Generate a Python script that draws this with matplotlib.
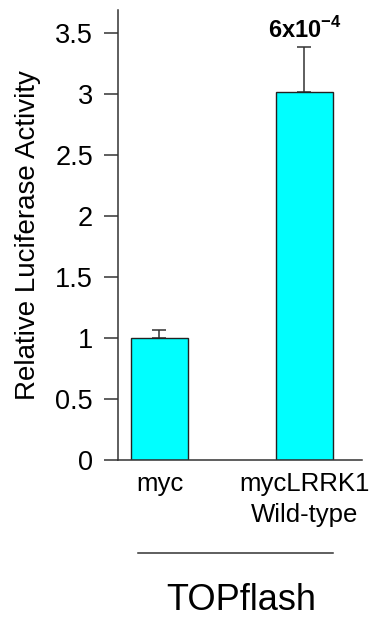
import numpy as np
import matplotlib.pyplot as plt
from matplotlib.lines import Line2D

plt.rcParams['font.family'] = ['Liberation Sans', 'DejaVu Sans']
plt.rcParams['mathtext.fontset'] = 'custom'
plt.rcParams['mathtext.rm'] = 'Liberation Sans'
plt.rcParams['mathtext.bf'] = 'Liberation Sans:bold'

# data
categories = ['myc', 'mycLRRK1\nWild-type']
values = [1.0, 3.02]
errors = [0.07, 0.37]
p_label = r'6x10$^{\mathbf{-4}}$'
yticks = [0, 0.5, 1, 1.5, 2, 2.5, 3, 3.5]
ytick_labels = ['0', '0.5', '1', '1.5', '2', '2.5', '3', '3.5']

axis_col = '#333333'

fig = plt.figure(figsize=(3.76, 6.18), dpi=100)
ax = fig.add_axes([118/376, 1 - 460/618, 244/376, 450/618])

x = np.arange(len(categories))
ax.bar(x, values, width=0.393, color='#00FFFF', edgecolor='#222222', linewidth=1.0, zorder=2)
ax.errorbar(x, values, yerr=[np.zeros(len(errors)), errors], fmt='none',
            ecolor=axis_col, elinewidth=1.1, capsize=4.7, capthick=1.1, zorder=1)

ax.text(x[1], values[1] + errors[1] + 0.03, p_label, ha='center', va='bottom',
        fontsize=17, fontweight='bold')

ax.set_xlim(-0.286, 1.397)
ax.set_ylim(0, 3.69)
ax.set_yticks(yticks)
ax.set_yticklabels(ytick_labels, fontsize=19.5)
ax.set_xticks(x)
ax.set_xticklabels(categories, fontsize=18.5, linespacing=1.35)
ax.tick_params(axis='x', length=0, pad=9)
ax.tick_params(axis='y', length=10, width=1.1, color=axis_col, pad=8)
ax.set_ylabel('Relative Luciferase Activity', fontsize=20, labelpad=10)

for s in ['top', 'right']:
    ax.spines[s].set_visible(False)
for s in ['left', 'bottom']:
    ax.spines[s].set_color(axis_col)
    ax.spines[s].set_linewidth(1.1)

# group bracket and label
fig.add_artist(Line2D([138/376, 333/376], [1 - 553/618, 1 - 553/618],
                      color=axis_col, linewidth=1.1))
fig.text(241/376, 1 - 600/618, 'TOPflash', ha='center', va='center', fontsize=26)

fig.savefig('out.png', dpi=100)
